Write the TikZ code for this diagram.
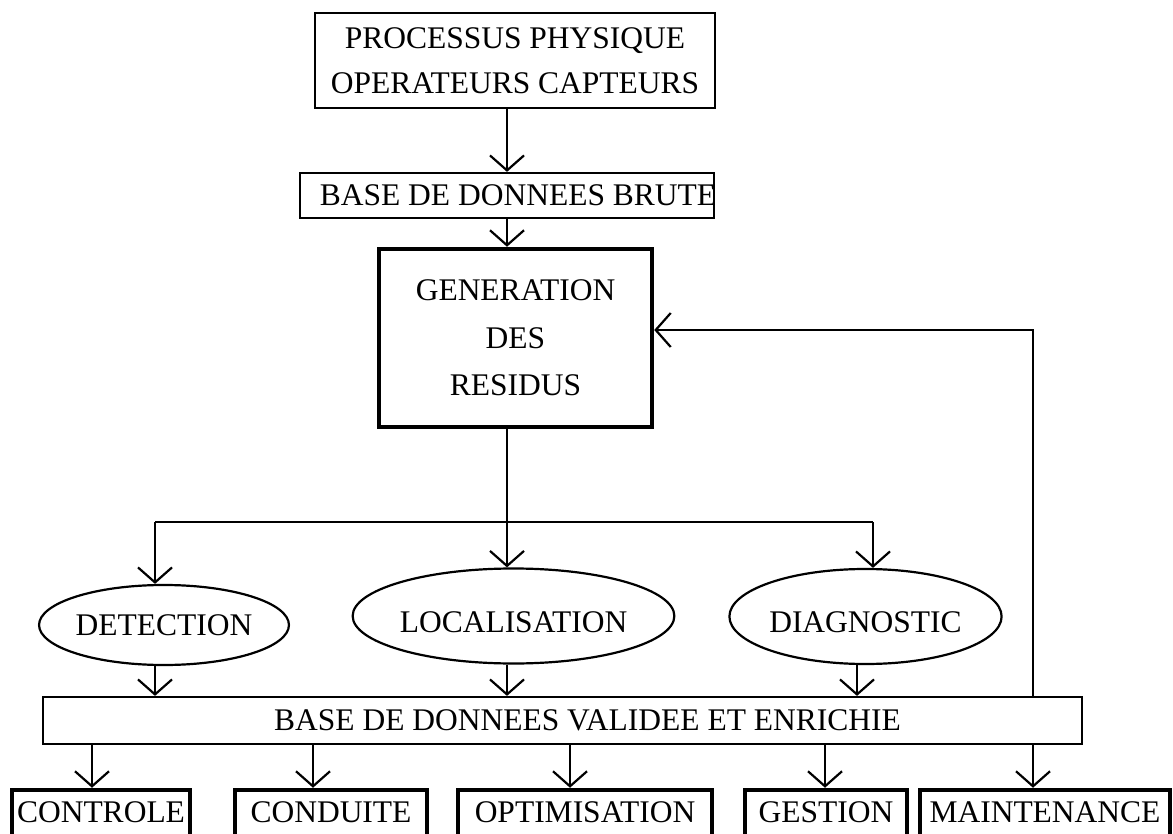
\documentclass[tikz,border=0pt]{standalone}
\usepackage{fontspec}
\setmainfont{Liberation Serif}
\usetikzlibrary{arrows.meta,shapes.geometric,calc}
\begin{document}
\begin{tikzpicture}[x=1pt,y=-1pt,
  txt/.style={font=\fontsize{31.5}{45}\selectfont},
  tbox/.style={draw, line width=2.2pt, rectangle, inner sep=0pt, txt},
  kbox/.style={draw, line width=4.5pt, rectangle, inner sep=0pt, txt},
  bbox/.style={kbox, anchor=base, text height=32pt, text depth=44pt},
  ell/.style={draw, line width=2.2pt, ellipse, inner sep=0pt, txt},
  arr/.style={line width=2.2pt, -{Straight Barb[length=15pt,width=34pt]}},
  conn/.style={line width=2.2pt}]
\useasboundingbox (0,0) rectangle (1173,834);
\clip (0,0) rectangle (1173,834);

\node[tbox, minimum width=400pt, minimum height=95pt, align=center] (P) at (515,60.5) {PROCESSUS PHYSIQUE\\OPERATEURS CAPTEURS};
\node[tbox, minimum width=414pt, minimum height=45pt, label={[txt,xshift=11pt]center:BASE DE DONNEES BRUTE}] (B) at (507,195.5) {};
\node[kbox, minimum width=273pt, minimum height=178pt, align=center, font=\fontsize{31.5}{47.5}\selectfont] (G) at (515.5,338) {GENERATION\\DES\\RESIDUS};

\node[ell, minimum width=242pt, minimum height=80pt] (DET) at (164,625) {DETECTION};
\node[ell, minimum width=303pt, minimum height=95pt, text height=33pt] (LOC) at (513.5,616) {LOCALISATION};
\node[ell, minimum width=239pt, minimum height=95pt, text height=33pt] (DIA) at (865.5,616.5) {DIAGNOSTIC};

\node[tbox, minimum width=1039pt, minimum height=47pt, label={[txt,xshift=25pt]center:BASE DE DONNEES VALIDEE ET ENRICHIE}] (V) at (562.5,720.5) {};

\node[bbox, minimum width=178pt] (C1) at (101,822) {CONTROLE};
\node[bbox, minimum width=192pt] (C2) at (331,822) {CONDUITE};
\node[bbox, minimum width=254pt] (C3) at (585,822) {OPTIMISATION};
\node[bbox, minimum width=162pt] (C4) at (826,822) {GESTION};
\node[bbox, minimum width=250pt] (C5) at (1045,822) {MAINTENANCE};

\draw[arr] (B.north |- P.south) -- (B.north);
\draw[arr] (B.south) -- (B.south |- G.north);

\coordinate (sp) at (507,522);
\coordinate (sl) at (155,522);
\coordinate (sr) at (873,522);
\draw[conn] (sp |- G.south) -- (sp);
\draw[conn] (sl) -- (sr);
\draw[arr] (sl) -- (sl |- DET.north);
\draw[arr] (sp) -- (sp |- LOC.north);
\draw[arr] (sr) -- (sr |- DIA.north);

\draw[arr] (sl |- DET.south) -- (sl |- V.north);
\draw[arr] (sp |- LOC.south) -- (sp |- V.north);
\draw[arr] ([xshift=-8.5pt]DIA.south) -- ([xshift=-8.5pt]DIA.south |- V.north);

\coordinate (fb) at (1033,330);
\draw[arr] (fb |- V.north) -- (fb) -- (fb -| G.east);

\draw[arr] ([xshift=-9pt]C1.north |- V.south) -- ([xshift=-9pt]C1.north);
\draw[arr] ([xshift=-18pt]C2.north |- V.south) -- ([xshift=-18pt]C2.north);
\draw[arr] ([xshift=-15pt]C3.north |- V.south) -- ([xshift=-15pt]C3.north);
\draw[arr] ([xshift=-1pt]C4.north |- V.south) -- ([xshift=-1pt]C4.north);
\draw[arr] (fb |- V.south) -- (fb |- C5.north);
\end{tikzpicture}
\end{document}
